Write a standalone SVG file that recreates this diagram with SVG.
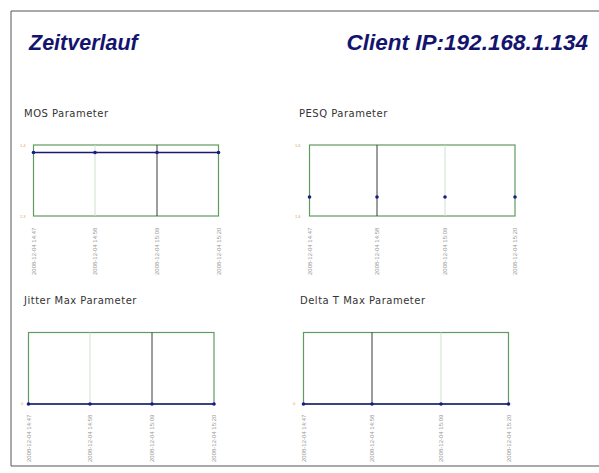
<svg xmlns="http://www.w3.org/2000/svg" width="599" height="473" viewBox="0 0 599 473">
<style>
.title{font-family:"Liberation Sans",Arial,sans-serif;font-weight:bold;font-style:italic;font-size:21.5px;fill:#14146e}
.ct{font-family:"DejaVu Sans",Verdana,sans-serif;font-size:10px;letter-spacing:0.5px;fill:#333}
.box{fill:#fff;stroke:#5f9a5f;stroke-width:1.2}
.gl{stroke:#cfe0cf;stroke-width:1}
.gd{stroke:#3a3a3a;stroke-width:1}
.dl{stroke:#1a1a6e;stroke-width:1.4;fill:none}
.pt{fill:#1a1a8a}
.yl{font-family:"Liberation Sans",Arial,sans-serif;font-size:4px;fill:#d8a060}
.xl{font-family:"Liberation Sans",Arial,sans-serif;font-size:6px;fill:#999}
</style>
<rect x="0" y="0" width="599" height="473" fill="#fff"/>
<path d="M599,11 H11 V466 H599" fill="none" stroke="#555" stroke-width="1"/>
<text class="title" x="29" y="50">Zeitverlauf</text>
<text class="title" x="588" y="50" text-anchor="end" style="font-size:22.5px">Client IP:192.168.1.134</text>

<g id="mos">
<text class="ct" x="24" y="117">MOS Parameter</text>
<rect class="box" x="33.5" y="145" width="185" height="71"/>
<line class="gl" x1="95" y1="145" x2="95" y2="216"/>
<line class="gd" x1="157" y1="145" x2="157" y2="216"/>
<polyline class="dl" points="33.5,152.5 95,152.5 157,152.5 218.5,152.5"/>
<circle class="pt" cx="33.5" cy="152.5" r="1.8"/><circle class="pt" cx="95" cy="152.5" r="1.8"/><circle class="pt" cx="157" cy="152.5" r="1.8"/><circle class="pt" cx="218.5" cy="152.5" r="1.8"/>
<text class="yl" x="20" y="147">1.4</text>
<text class="yl" x="20" y="218">1.3</text>
<text class="xl" transform="translate(36,275) rotate(-90)">2008-12-04 14:47</text>
<text class="xl" transform="translate(97,275) rotate(-90)">2008-12-04 14:58</text>
<text class="xl" transform="translate(159,275) rotate(-90)">2008-12-04 15:09</text>
<text class="xl" transform="translate(221,275) rotate(-90)">2008-12-04 15:20</text>
</g>

<g id="pesq">
<text class="ct" x="299" y="117">PESQ Parameter</text>
<rect class="box" x="309.5" y="145" width="205.5" height="71"/>
<line class="gd" x1="377" y1="145" x2="377" y2="216"/>
<line class="gl" x1="445" y1="145" x2="445" y2="216"/>
<circle class="pt" cx="309.5" cy="197" r="1.8"/><circle class="pt" cx="377" cy="197" r="1.8"/><circle class="pt" cx="445" cy="197" r="1.8"/><circle class="pt" cx="515" cy="197" r="1.8"/>
<text class="yl" x="295" y="147">1.6</text>
<text class="yl" x="295" y="218">1.6</text>
<text class="xl" transform="translate(312,275) rotate(-90)">2008-12-04 14:47</text>
<text class="xl" transform="translate(379,275) rotate(-90)">2008-12-04 14:58</text>
<text class="xl" transform="translate(447,275) rotate(-90)">2008-12-04 15:09</text>
<text class="xl" transform="translate(517,275) rotate(-90)">2008-12-04 15:20</text>
</g>

<g id="jitter">
<text class="ct" x="24" y="304">Jitter Max Parameter</text>
<rect class="box" x="28.5" y="332.5" width="185.5" height="71.5"/>
<line class="gl" x1="90" y1="332.5" x2="90" y2="404"/>
<line class="gd" x1="152" y1="332.5" x2="152" y2="404"/>
<polyline class="dl" points="28.5,404 90,404 152,404 214,404"/>
<circle class="pt" cx="28.5" cy="404" r="1.8"/><circle class="pt" cx="90" cy="404" r="1.8"/><circle class="pt" cx="152" cy="404" r="1.8"/><circle class="pt" cx="214" cy="404" r="1.8"/>
<text class="yl" x="21" y="405">0</text>
<text class="xl" transform="translate(31,462) rotate(-90)">2008-12-04 14:47</text>
<text class="xl" transform="translate(92,462) rotate(-90)">2008-12-04 14:58</text>
<text class="xl" transform="translate(154,462) rotate(-90)">2008-12-04 15:09</text>
<text class="xl" transform="translate(216,462) rotate(-90)">2008-12-04 15:20</text>
</g>

<g id="delta">
<text class="ct" x="300" y="304">Delta T Max Parameter</text>
<rect class="box" x="303.5" y="332.5" width="205" height="71.5"/>
<line class="gd" x1="372" y1="332.5" x2="372" y2="404"/>
<line class="gl" x1="441" y1="332.5" x2="441" y2="404"/>
<polyline class="dl" points="303.5,404 372,404 441,404 508.5,404"/>
<circle class="pt" cx="303.5" cy="404" r="1.8"/><circle class="pt" cx="372" cy="404" r="1.8"/><circle class="pt" cx="441" cy="404" r="1.8"/><circle class="pt" cx="508.5" cy="404" r="1.8"/>
<text class="yl" x="293" y="405">0</text>
<text class="xl" transform="translate(306,462) rotate(-90)">2008-12-04 14:47</text>
<text class="xl" transform="translate(374,462) rotate(-90)">2008-12-04 14:58</text>
<text class="xl" transform="translate(443,462) rotate(-90)">2008-12-04 15:09</text>
<text class="xl" transform="translate(511,462) rotate(-90)">2008-12-04 15:20</text>
</g>
</svg>
